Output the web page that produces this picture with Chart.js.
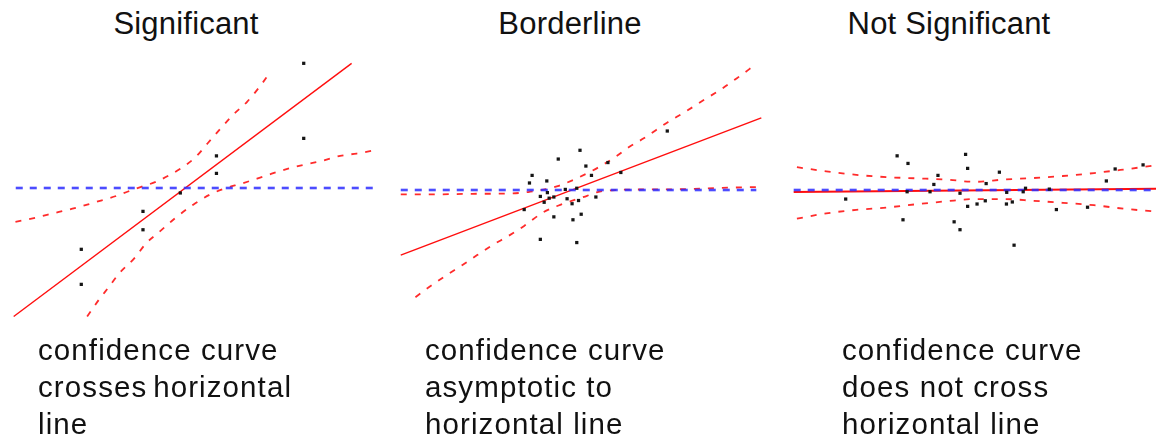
<!DOCTYPE html>
<html>
<head>
<meta charset="utf-8">
<script src="https://cdn.jsdelivr.net/npm/chart.js@4.4.1/dist/chart.umd.min.js"></script>
<style>
  html, body { margin: 0; padding: 0; background: #fff; overflow: hidden; }
  #stage { position: relative; width: 1160px; height: 438px;
           font-family: "Liberation Sans", Arial, Helvetica, sans-serif; color: #111; }
  .title { position: absolute; top: 5px; font-size: 31px; line-height: 38px;
           letter-spacing: 0.2px; white-space: nowrap; transform: translateX(-50%); }
  .note  { position: absolute; top: 331px; font-size: 29.5px; line-height: 37px;
           letter-spacing: 1.1px; white-space: nowrap; }
  .tight { word-spacing: -3.5px; }
  canvas { position: absolute; }
</style>
</head>
<body>
<div id="stage">
  <div class="title" style="left:186px">Significant</div>
  <div class="title" style="left:570px">Borderline</div>
  <div class="title" style="left:949px">Not Significant</div>

  <canvas id="sig"  width="390" height="300" style="left:0px;   top:38px"></canvas>
  <canvas id="bord" width="390" height="300" style="left:390px; top:40px"></canvas>
  <canvas id="nots" width="390" height="300" style="left:770px; top:40px"></canvas>

  <div class="note" style="left:38px">confidence curve<br><span class="tight">crosses horizontal</span><br>line</div>
  <div class="note" style="left:425px">confidence curve<br>asymptotic to<br>horizontal line</div>
  <div class="note" style="left:842px">confidence curve<br>does not cross<br>horizontal line</div>
</div>

<script>
// ---- Significant: steep fit, bands cross the mean line ----
const sigPointX = [10.20, 10.20, 7.23, 7.23, 6.00, 4.73, 4.73, 2.63, 2.63];
const sigPointY = [4.27, 1.70, 1.10, 0.50, -0.17, -0.80, -1.43, -2.10, -3.30];
const sigFitX   = [0.33, 11.83];
const sigFitY   = [-4.40, 4.27];
const sigMeanX  = [0.40, 12.57];
const sigMeanY  = [0, 0];
const sigUpperX = [0.39, 1.11, 1.78, 2.33, 2.83, 3.33, 3.83, 4.22, 4.67, 5.17, 5.61, 6.00, 6.50, 6.94, 7.33, 7.78, 8.28, 8.67, 9.06];
const sigUpperY = [-1.16, -1.01, -0.84, -0.71, -0.57, -0.42, -0.27, -0.12, 0.04, 0.21, 0.43, 0.66, 1.04, 1.54, 1.99, 2.49, 2.96, 3.43, 3.96];
const sigLowerX = [2.83, 3.22, 3.56, 3.94, 4.44, 4.83, 5.28, 5.78, 6.44, 7.00, 7.44, 8.11, 8.61, 9.11, 9.67, 10.22, 10.83, 11.44, 12.00, 12.50];
const sigLowerY = [-4.40, -3.84, -3.40, -2.90, -2.40, -1.90, -1.51, -1.07, -0.57, -0.23, -0.04, 0.16, 0.32, 0.49, 0.66, 0.80, 0.93, 1.10, 1.18, 1.27];

// ---- Borderline: one band runs along the mean line ----
const bordPointX = [6.33, 5.59, 6.53, 7.28, 4.70, 6.72, 4.61, 5.20, 7.72, 6.22, 5.83, 5.22, 4.98, 5.44, 5.28, 5.11, 5.89, 6.28, 6.06, 6.87, 6.37, 5.44, 6.09, 4.98, 6.22, 9.30, 4.43];
const bordPointY = [1.36, 1.06, 0.82, 0.94, 0.50, 0.50, 0.24, 0.31, 0.60, 0.06, 0.02, -0.09, -0.22, -0.24, -0.28, -0.42, -0.30, -0.36, -0.47, -0.24, -0.83, -0.92, -1.02, -1.69, -1.80, 2.02, -0.67];
const bordFitX   = [0.23, 12.50];
const bordFitY   = [-2.23, 2.47];
const bordMeanX  = [0.23, 12.33];
const bordMeanY  = [0, 0];
const bordUpperX = [0.23, 1.33, 2.67, 3.90, 4.57, 5.17, 5.57, 6.07, 6.57, 7.00, 7.53, 8.00, 8.50, 9.33, 9.90, 10.57, 11.10, 11.67, 12.27];
const bordUpperY = [-0.15, -0.15, -0.13, -0.12, -0.07, 0.03, 0.13, 0.33, 0.57, 0.80, 1.13, 1.47, 1.77, 2.33, 2.67, 3.10, 3.43, 3.83, 4.27];
const bordLowerX = [0.73, 1.27, 1.77, 2.33, 2.83, 3.33, 3.90, 4.43, 5.07, 5.60, 6.17, 6.57, 6.93, 7.57, 8.67, 10.00, 11.00, 12.33];
const bordLowerY = [-3.67, -3.27, -2.93, -2.57, -2.23, -1.90, -1.57, -1.23, -0.77, -0.53, -0.33, -0.20, -0.07, 0.00, 0.02, 0.03, 0.07, 0.10];

// ---- Not significant: flat fit, mean line stays inside both bands ----
const notPointX = [4.19, 4.56, 6.52, 6.59, 5.58, 5.44, 4.53, 5.31, 6.33, 2.44, 4.39, 6.13, 6.33, 6.59, 7.67, 7.22, 7.92, 8.56, 8.48, 9.37, 11.31, 11.61, 12.56, 6.91, 7.19, 7.91, 8.11, 9.61, 10.67, 8.17];
const notPointY = [1.17, 0.91, 1.22, 0.74, 0.50, 0.19, -0.06, -0.06, -0.11, -0.31, -1.02, -1.09, -1.36, -0.56, 0.61, 0.22, -0.08, 0.06, -0.06, 0.03, 0.31, 0.72, 0.86, -0.48, -0.37, -0.48, -0.41, -0.67, -0.59, -1.89];
const notFitX   = [0.67, 13.00];
const notFitY   = [-0.07, 0.04];
const notMeanX  = [0.67, 13.00];
const notMeanY  = [0, 0];
const notUpperX = [0.78, 1.78, 2.80, 3.83, 4.83, 5.83, 6.83, 7.83, 8.83, 9.83, 10.89, 11.89, 12.89];
const notUpperY = [0.78, 0.64, 0.52, 0.44, 0.40, 0.36, 0.28, 0.36, 0.41, 0.48, 0.58, 0.70, 0.83];
const notLowerX = [0.78, 1.78, 2.80, 3.83, 4.83, 5.83, 6.83, 7.83, 8.83, 9.83, 10.89, 11.89, 12.89];
const notLowerY = [-0.98, -0.80, -0.68, -0.60, -0.49, -0.39, -0.31, -0.31, -0.37, -0.44, -0.52, -0.64, -0.73];

const pairs = (xs, ys) => xs.map((x, i) => ({ x, y: ys[i] }));

function drawPanel(id, s, fitWidth) {
  new Chart(document.getElementById(id), {
    type: 'scatter',
    data: {
      datasets: [
        { data: pairs(s.pointX, s.pointY), pointStyle: 'rect', pointRadius: 2.3,
          backgroundColor: '#151515', borderColor: '#151515', pointBorderWidth: 0 },
        { data: pairs(s.meanX, s.meanY), showLine: true, pointRadius: 0,
          borderColor: 'rgba(45,45,255,0.85)', borderWidth: 2.6, borderDash: [7, 7] },
        { data: pairs(s.fitX, s.fitY), showLine: true, pointRadius: 0,
          borderColor: 'rgba(255,0,0,0.95)', borderWidth: fitWidth },
        { data: pairs(s.upperX, s.upperY), showLine: true, pointRadius: 0,
          borderColor: 'rgba(255,20,20,0.9)', borderWidth: 1.8, borderDash: [6, 8],
          cubicInterpolationMode: 'monotone' },
        { data: pairs(s.lowerX, s.lowerY), showLine: true, pointRadius: 0,
          borderColor: 'rgba(255,20,20,0.9)', borderWidth: 1.8, borderDash: [6, 8],
          cubicInterpolationMode: 'monotone' }
      ]
    },
    options: {
      responsive: false,
      animation: false,
      events: [],
      layout: { padding: 0 },
      plugins: { legend: { display: false }, tooltip: { enabled: false } },
      scales: {
        x: { type: 'linear', min: 0, max: 13, display: false },
        y: { type: 'linear', min: -5, max: 5, display: false }
      }
    }
  });
}

drawPanel('sig', {
  pointX: sigPointX, pointY: sigPointY, fitX: sigFitX, fitY: sigFitY,
  meanX: sigMeanX, meanY: sigMeanY, upperX: sigUpperX, upperY: sigUpperY,
  lowerX: sigLowerX, lowerY: sigLowerY
}, 1.4);

drawPanel('bord', {
  pointX: bordPointX, pointY: bordPointY, fitX: bordFitX, fitY: bordFitY,
  meanX: bordMeanX, meanY: bordMeanY, upperX: bordUpperX, upperY: bordUpperY,
  lowerX: bordLowerX, lowerY: bordLowerY
}, 1.4);

drawPanel('nots', {
  pointX: notPointX, pointY: notPointY, fitX: notFitX, fitY: notFitY,
  meanX: notMeanX, meanY: notMeanY, upperX: notUpperX, upperY: notUpperY,
  lowerX: notLowerX, lowerY: notLowerY
}, 2);
</script>
</body>
</html>
